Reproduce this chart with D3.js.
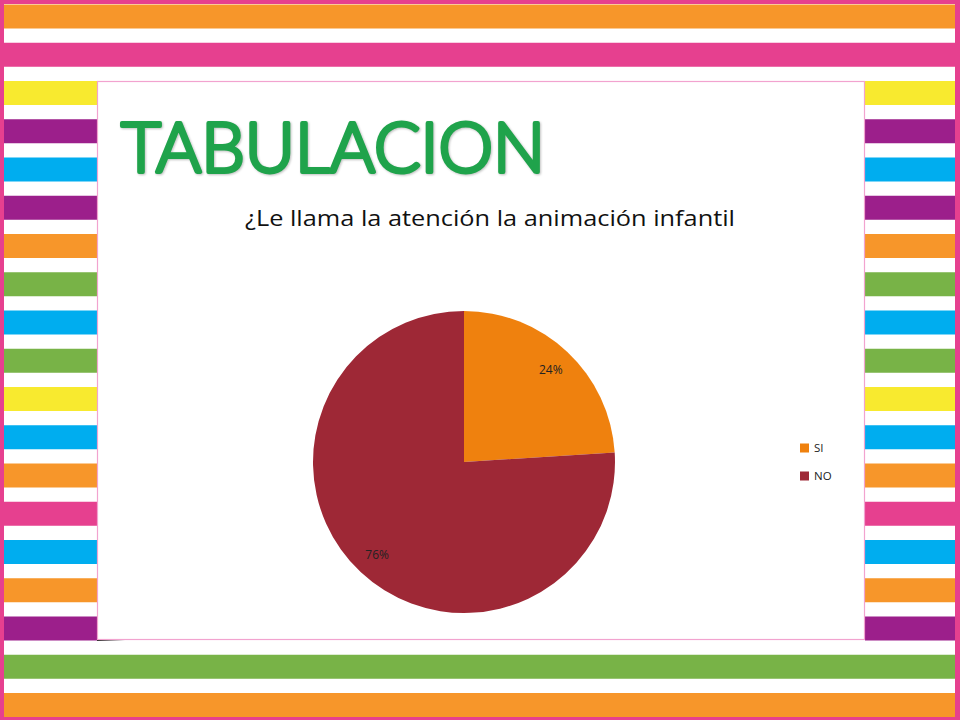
<!DOCTYPE html>
<html><head><meta charset="utf-8">
<script src="https://cdn.jsdelivr.net/npm/d3@7/dist/d3.min.js"></script>
<style>body{margin:0;background:#fff}svg{display:block}</style>
</head><body>
<svg id="c" width="960" height="720"></svg>
<script>
const categories = ["SI", "NO"];
const values = [24, 76];
const labels = ["24%", "76%"];
const pieColors = ["#EF810E", "#9E2836"];
const chartTitle = "TABULACION";
const question = "¿Le llama la atención la animación infantil";

// decorative stripe colours (top to bottom)
const stripeColors = ["#F7962A","#E6408F","#F8EA2F","#9C1F8B","#00ADEF","#9C1F8B","#F7962A","#78B347","#00ADEF","#78B347","#F8EA2F","#00ADEF","#F7962A","#E6408F","#00ADEF","#F7962A","#9C1F8B","#78B347","#F7962A"];

const svg = d3.select("#c");
// pink frame
svg.append("rect").attr("width",960).attr("height",720).attr("fill","#E6408F");
svg.append("rect").attr("x",4).attr("y",4).attr("width",951).attr("height",712).attr("fill","#fff");

const sy = d3.scaleLinear().domain([0,1]).range([4.5, 42.75]);
stripeColors.forEach((c,i)=>{
  const y = sy(i);
  const full = i < 2 || i > 16;
  if (full) {
    svg.append("rect").attr("x",4).attr("y",y).attr("width",951).attr("height",24).attr("fill",c);
  } else {
    svg.append("rect").attr("x",4).attr("y",y).attr("width",93).attr("height",24).attr("fill",c);
    svg.append("rect").attr("x",865).attr("y",y).attr("width",90).attr("height",24).attr("fill",c);
  }
});

// shadow artifact
svg.append("path").attr("d","M97,633 L125,640 L97,641 Z").attr("fill","#222");
// panel
svg.append("rect").attr("x",97.5).attr("y",81.5).attr("width",767).attr("height",558)
  .attr("fill","#fff").attr("stroke","#F2A3CF").attr("stroke-width",1.2);

// title (rounded marker look)
svg.append("text").attr("x",121).attr("y",172).text(chartTitle)
  .attr("font-family","Lato, 'Open Sans', sans-serif").attr("font-weight",300).attr("font-size",68)
  .attr("fill","#1FA34B").attr("stroke","#1FA34B").attr("stroke-width",4).attr("stroke-linejoin","round").attr("stroke-linecap","round")
  .attr("textLength",424).attr("lengthAdjust","spacingAndGlyphs")
  .style("filter","drop-shadow(1px 1px 1px rgba(0,0,0,0.25))");

svg.append("text").attr("x",490).attr("y",226).attr("text-anchor","middle").text(question)
  .attr("font-family","'Open Sans', sans-serif").attr("font-size",21).attr("fill","#111")
  .attr("textLength",490).attr("lengthAdjust","spacingAndGlyphs");

// pie
const cx = 464, cy = 462, r = 151;
const pie = d3.pie().sort(null).value(d=>d)(values);
const arc = d3.arc().innerRadius(0).outerRadius(r);
const g = svg.append("g").attr("transform",`translate(${cx},${cy})`);
g.selectAll("path").data(pie).join("path").attr("d",arc).attr("fill",(d,i)=>pieColors[i]);
const labArc = d3.arc().innerRadius(r*0.84).outerRadius(r*0.84);
g.selectAll("text").data(pie).join("text")
  .attr("transform",d=>`translate(${labArc.centroid(d)})`)
  .attr("text-anchor","middle").attr("dy","0.35em")
  .attr("font-family","'Open Sans', sans-serif").attr("font-size",12).attr("fill","#222")
  .text((d,i)=>labels[i]);

// legend
const ly = d3.scaleBand().domain(categories).range([434,490]);
const lg = svg.append("g");
categories.forEach((c,i)=>{
  const y = ly(c) + ly.bandwidth()/2;
  lg.append("rect").attr("x",800).attr("y",y-4.5).attr("width",9).attr("height",9).attr("fill",pieColors[i]);
  lg.append("text").attr("x",814).attr("y",y).attr("dy","0.35em").text(c)
    .attr("font-family","'Open Sans', sans-serif").attr("font-size",11.5).attr("fill","#222");
});
</script>
</body></html>
